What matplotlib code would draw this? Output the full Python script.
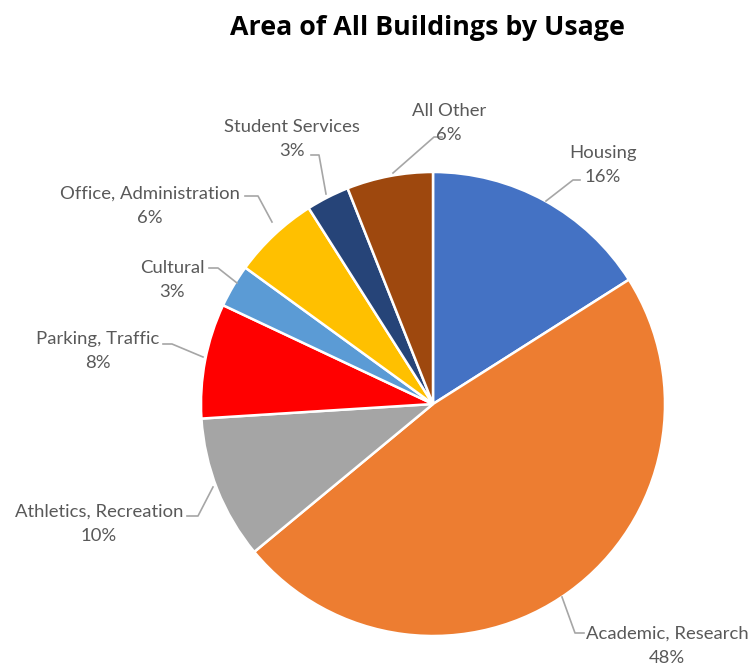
import matplotlib.pyplot as plt

labels = ['Housing', 'Academic, Research', 'Athletics, Recreation', 'Parking, Traffic',
          'Cultural', 'Office, Administration', 'Student Services', 'All Other']
shares = [16, 48, 10, 8, 3, 6, 3, 6]
colors = ['#4472C4', '#ED7D31', '#A5A5A5', '#FF0000', '#5B9BD5', '#FFC000', '#264478', '#9E480E']

# label text centres (pixels from top-left) and leader lines
text_pos = [(603, 165), (667, 646), (99, 524), (98, 351), (172, 280), (150, 206), (292, 139), (449, 123)]
leaders = [
    [(546, 201), (573, 180), (580, 180)],
    [(562, 597), (575, 633), (584, 633)],
    [(213, 487), (198, 516), (187, 516)],
    [(203, 357), (172, 344), (163, 344)],
    [(237, 283), (218, 268), (209, 268)],
    [(272, 222), (258, 196), (245, 196)],
    [(326, 194), (319, 155), (311, 155)],
    [(393, 173), (434, 137), (442, 137)],
]

W, H = 752, 671
fig = plt.figure(figsize=(W / 100, H / 100), dpi=100)
ax = fig.add_axes([0, 0, 1, 1])

ax.pie(shares, colors=colors, startangle=90, counterclock=False,
       center=(433, H - 404), radius=232,
       wedgeprops=dict(edgecolor='white', linewidth=1.8))
ax.set_xlim(0, W)
ax.set_ylim(0, H)
ax.set_aspect('equal')
ax.axis('off')

for lab, s, (x, y), pts in zip(labels, shares, text_pos, leaders):
    ax.text(x, H - y, f'{lab}\n{s}%', ha='center', va='center', fontsize=13.3,
            family='Lato', color='#595959', linespacing=1.65)
    ax.plot([p[0] for p in pts], [H - p[1] for p in pts], color='#A6A6A6', lw=1.2)

ax.text(427, H - 28, 'Area of All Buildings by Usage', ha='center', va='center',
        fontsize=19.3, fontweight='bold', family='Open Sans', color='black')

fig.savefig('out.png', dpi=100)
